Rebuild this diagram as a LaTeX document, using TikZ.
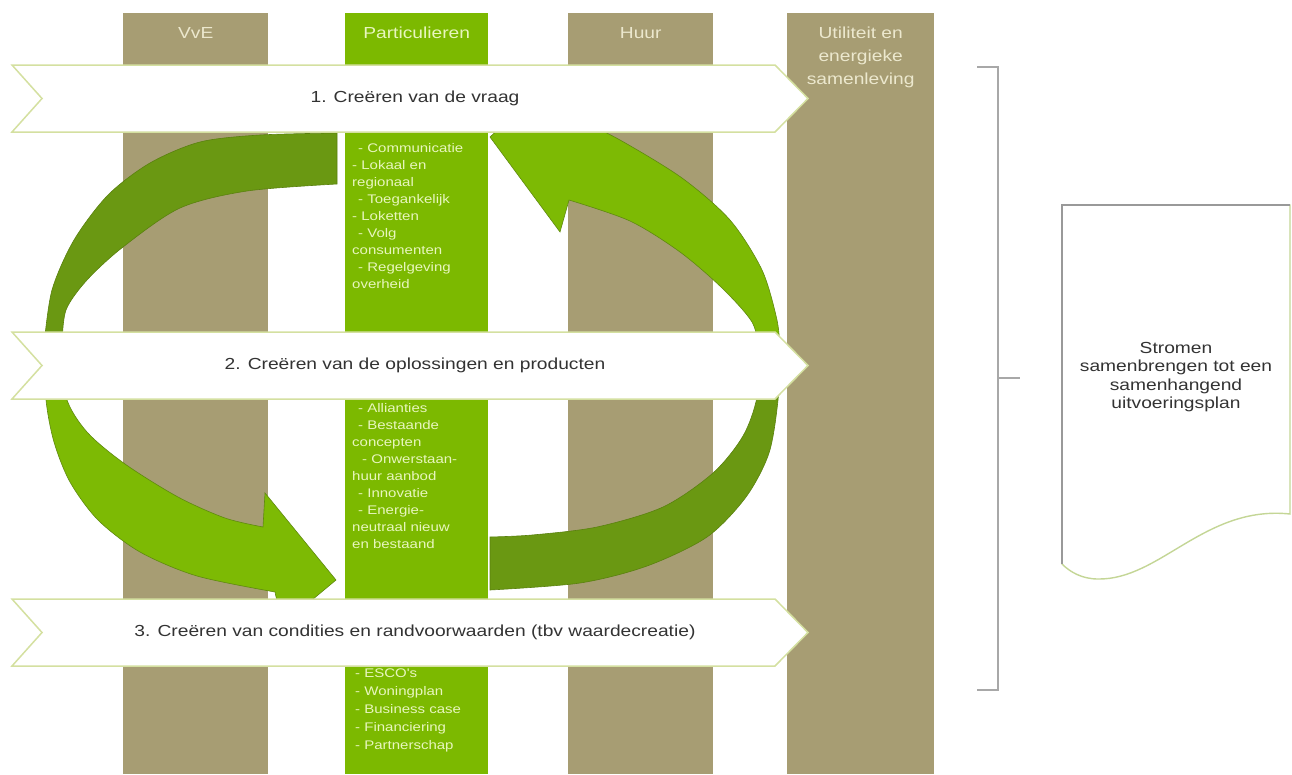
\documentclass[tikz,border=0pt]{standalone}
\usepackage{fontspec}
\setmainfont{Liberation Sans}
\newfontfamily\wide[FakeStretch=1.2]{Liberation Sans}
\usetikzlibrary{positioning}
\definecolor{khaki}{RGB}{167,157,115}
\definecolor{colgreen}{RGB}{124,185,0}
\definecolor{arrdark}{RGB}{106,152,18}
\definecolor{arrlight}{RGB}{125,186,4}
\definecolor{bannerline}{RGB}{212,224,160}
\definecolor{headtxt}{RGB}{236,232,206}
\definecolor{listtxt}{RGB}{232,246,190}
\definecolor{bracegray}{RGB}{168,168,168}
\definecolor{docline}{RGB}{196,214,150}
\tikzset{
    column/.style={fill=khaki, draw=none, anchor=north west, minimum height=761pt, inner sep=0pt},
    greencol/.style={column, fill=colgreen},
    header/.style={font=\wide\fontsize{16}{23}\selectfont, text=headtxt, align=center, inner sep=0pt},
    banner/.style={fill=white, draw=bannerline, line width=1.5pt},
    bannertext/.style={font=\wide\fontsize{16}{18}\selectfont, text=black!80},
    listtext/.style={font=\wide\fontsize{12.5}{17}\selectfont, text=listtxt, align=left, anchor=north west, inner sep=0pt},
    arrowdark/.style={fill=arrdark, draw=arrdark!85!black, line width=0.6pt},
    arrowlight/.style={fill=arrlight, draw=arrdark!90!black, line width=0.6pt},
    docshape/.style={fill=white, draw=docline, line width=1.4pt},
    docedge/.style={draw=black!40, line width=1.4pt},
    doctext/.style={font=\wide\fontsize{16}{18.5}\selectfont, text=black!80, align=center},
    brace/.style={draw=bracegray, line width=1.6pt},
}
\begin{document}
\begin{tikzpicture}[x=1pt, y=-1pt]
    \useasboundingbox (0,0) rectangle (1292,774);

    % columns
    \node[column, minimum width=145pt] (vve) at (123,13) {};
    \node[greencol, minimum width=143pt] (part) at (345,13) {};
    \node[column, minimum width=145pt] (huur) at (568,13) {};
    \node[column, minimum width=147pt] (util) at (787,13) {};

    \node[header, below=14pt of vve.north] (vveh) {VvE};
    \node[header, below=14pt of part.north, text=listtxt] (parth) {Particulieren};
    \node[header, below=14pt of huur.north] (huurh) {Huur};
    \node[header, below=14pt of util.north] (utilh) {Utiliteit en\\energieke\\samenleving};

    % cycle of arrows
    \path[arrowdark] plot[smooth] coordinates {(337,133) (260,135) (200,142) (150,163) (108,195) (74,240) (52,290) (44,345)}
        -- plot[smooth] coordinates {(62,345) (66,310) (87,280) (123,247) (180,208) (247,191) (337,184)} -- cycle;
    \path[arrowlight] plot[smooth] coordinates {(44,345) (46,400) (54,442) (70,482) (98,520) (140,552) (197,576) (275,592)}
        -- (282,625) -- (336,580) -- (265,493) -- plot[smooth] coordinates {(263,527) (225,518) (178,497) (125,464) (87,432) (66,397) (62,345)} -- cycle;
    \path[arrowlight] (490,137) -- (525,105) -- plot[smooth] coordinates {(572,116) (620,140) (682,178) (730,220) (762,270) (777,320) (780,350)}
        -- plot[smooth] coordinates {(759,350) (752,322) (722,288) (680,252) (630,221) (569,200)} -- (560,232) -- cycle;
    \path[arrowdark] plot[smooth] coordinates {(780,350) (778,400) (769,453) (746,497) (707,537) (647,566) (580,583) (490,590)}
        -- plot[smooth] coordinates {(490,537) (532,535) (597,527) (663,507) (713,473) (743,436) (757,397) (759,350)} -- cycle;

    % banners
    \foreach \y/\name in {65/b1, 332/b2, 599/b3} {
        \draw[banner] (12,\y) -- (775,\y) -- (808,\y+33.5) -- (775,\y+67) -- (12,\y+67) -- (42,\y+33.5) -- cycle;
        \coordinate (\name) at (415,\y+33.5);
    }
    \node[bannertext] (vraag) at (b1) {1. Creëren van de vraag};
    \node[bannertext] (oplos) at (b2) {2. Creëren van de oplossingen en producten};
    \node[bannertext] (cond) at (b3) {3. Creëren van condities en randvoorwaarden (tbv waardecreatie)};

    % lists in the green column
    \node[listtext] (lijst1) at (352,143) {\hspace*{6pt}- Communicatie\\- Lokaal en\\regionaal\\\hspace*{6pt}- Toegankelijk\\- Loketten\\\hspace*{6pt}- Volg\\consumenten\\\hspace*{6pt}- Regelgeving\\overheid};
    \node[listtext] (lijst2) at (352,403) {\hspace*{6pt}- Allianties\\\hspace*{6pt}- Bestaande\\concepten\\\hspace*{10pt}- Onwerstaan-\\huur aanbod\\\hspace*{6pt}- Innovatie\\\hspace*{6pt}- Energie-\\neutraal nieuw\\en bestaand};
    \node[listtext, font=\wide\fontsize{12.5}{18}\selectfont] (lijst3) at (355,669) {- ESCO's\\- Woningplan\\- Business case\\- Financiering\\- Partnerschap};

    % bracket and plan
    \coordinate (bt) at (977,67);
    \coordinate (bb) at (977,690);
    \coordinate (bm) at (998,378);
    \draw[brace] (bt) -- (998,67) -- (998,690) -- (bb);
    \draw[brace] (bm) -- (1020,378);

    \draw[docshape] (1062,205) -- (1290,205) -- (1290,514) .. controls (1205,505) and (1160,580) .. (1098,579) .. controls (1082,579) and (1070,572) .. (1062,564) -- cycle;
    \draw[docedge] (1062,564) -- (1062,205) -- (1290,205);
    \node[doctext] (plan) at (1176,377) {Stromen\\samenbrengen tot een\\samenhangend\\uitvoeringsplan};
\end{tikzpicture}
\end{document}
